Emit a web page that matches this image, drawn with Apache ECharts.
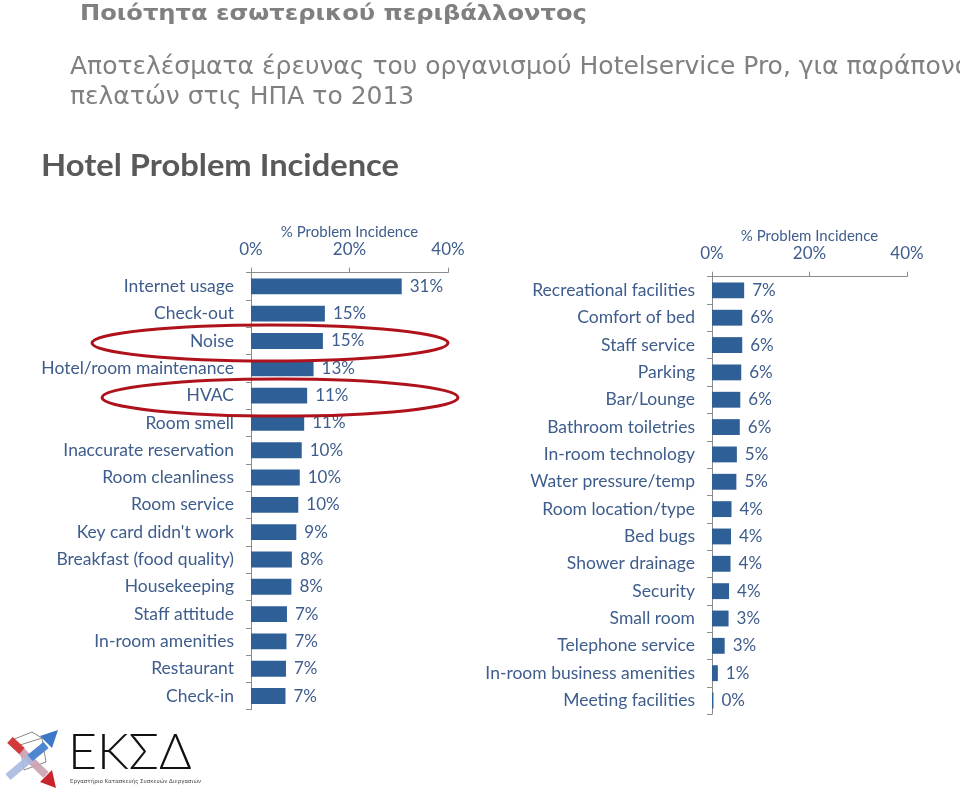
<!DOCTYPE html>
<html>
<head>
<meta charset="utf-8">
<script src="https://cdn.jsdelivr.net/npm/echarts@6/dist/echarts.min.js"></script>
<style>
html,body{margin:0;padding:0;background:#fff;}
#chart{width:960px;height:793px;}
</style>
</head>
<body>
<div id="chart"></div>
<script>
const pageTitle = 'Ποιότητα εσωτερικού περιβάλλοντος';
const subtitleLines = ['Αποτελέσματα έρευνας του οργανισμού Hotelservice Pro, για παράπονα', 'πελατών στις ΗΠΑ το 2013'];
const chartHeading = 'Hotel Problem Incidence';
const axisTitle = '% Problem Incidence';
const axisTicks = [0, 20, 40];

const leftCategories = ['Internet usage','Check-out','Noise','Hotel/room maintenance','HVAC','Room smell','Inaccurate reservation','Room cleanliness','Room service',"Key card didn't work",'Breakfast (food quality)','Housekeeping','Staff attitude','In-room amenities','Restaurant','Check-in'];
const leftValues = [30.6, 15.0, 14.6, 12.7, 11.4, 10.8, 10.3, 9.9, 9.6, 9.2, 8.3, 8.2, 7.3, 7.2, 7.1, 7.0];

const rightCategories = ['Recreational facilities','Comfort of bed','Staff service','Parking','Bar/Lounge','Bathroom toiletries','In-room technology','Water pressure/temp','Room location/type','Bed bugs','Shower drainage','Security','Small room','Telephone service','In-room business amenities','Meeting facilities'];
const rightValues = [6.6, 6.2, 6.2, 6.0, 5.8, 5.7, 5.1, 5.0, 4.0, 3.9, 3.8, 3.5, 3.4, 2.6, 1.2, 0.3];

const highlighted = ['Noise', 'HVAC'];

const BAR = '#2f5f97';
const TXT = '#3e5d8c';
const AX = '#8c8c8c';
const FONT = 'Lato';

function xAxisCfg(gi) {
  return {
    gridIndex: gi, type: 'value', position: 'top',
    min: axisTicks[0], max: axisTicks[axisTicks.length - 1], interval: axisTicks[1] - axisTicks[0],
    name: axisTitle, nameLocation: 'middle', nameGap: 33, nameMoveOverlap: false,
    nameTextStyle: {color: TXT, fontFamily: FONT, fontSize: 15},
    axisLine: {show: true, lineStyle: {color: AX, width: 1}},
    axisTick: {show: true, length: 5, lineStyle: {color: AX}},
    axisLabel: {color: TXT, fontFamily: FONT, fontSize: 17, margin: 15, formatter: '{value}%'},
    splitLine: {show: false}
  };
}
function yAxisCfg(gi, cats) {
  return {
    gridIndex: gi, type: 'category', data: cats, inverse: true,
    axisLine: {show: true, lineStyle: {color: AX, width: 1}},
    axisTick: {show: true, length: 5, lineStyle: {color: AX}},
    axisLabel: {color: TXT, fontFamily: FONT, fontSize: 17.5, margin: 17}
  };
}
function seriesCfg(gi, vals) {
  return {
    type: 'bar', xAxisIndex: gi, yAxisIndex: gi, data: vals,
    barCategoryGap: '42%',
    itemStyle: {color: BAR},
    label: {show: true, position: 'right', distance: 8, color: TXT, fontFamily: FONT, fontSize: 17,
      formatter: p => Math.round(p.value) + '%'},
    silent: true, animation: false
  };
}

const chart = echarts.init(document.getElementById('chart'), null, {renderer: 'canvas'});
chart.setOption({
  animation: false,
  grid: [
    {left: 251, top: 272.7, width: 197, height: 437},
    {left: 712, top: 276.7, width: 195, height: 437.5}
  ],
  xAxis: [xAxisCfg(0), xAxisCfg(1)],
  yAxis: [yAxisCfg(0, leftCategories), yAxisCfg(1, rightCategories)],
  series: [seriesCfg(0, leftValues), seriesCfg(1, rightValues)]
});

const els = [
  {type: 'text', x: 80, y: 3, scaleX: 1.125, originX: 0, style: {text: pageTitle, fill: '#808080', font: 'bold 21.5px "DejaVu Sans"'}},
  {type: 'text', left: 70, top: 55, style: {text: subtitleLines[0], fill: '#808080', font: '25px "DejaVu Sans"'}},
  {type: 'text', left: 70, top: 85, style: {text: subtitleLines[1], fill: '#808080', font: '25px "DejaVu Sans"'}},
  {type: 'text', x: 41, y: 151, scaleX: 1.09, originX: 0, style: {text: chartHeading, fill: '#595959', font: 'bold 30px Lato'}},
  // logo
  {type: 'text', left: 68, top: 728, style: {text: 'ΕΚΣΔ', fill: '#111', font: '300 50px Lato'}},
  {type: 'text', left: 70, top: 779, style: {text: 'Εργαστήριο Κατασκευής Συσκευών Διεργασιών', fill: '#444', font: '5.5px "DejaVu Sans"'}},
  {type: 'polyline', shape: {points: [[20,745],[42,738],[46,762],[24,770],[20,745]]}, style: {stroke: '#888', lineWidth: 1, fill: 'none'}},
  {type: 'polyline', shape: {points: [[42,738],[32,732],[12,740],[20,745]]}, style: {stroke: '#888', lineWidth: 1, fill: 'none'}},
  {type: 'line', shape: {x1: 10, y1: 740, x2: 46, y2: 775}, style: {stroke: '#c9a0b0', lineWidth: 8, opacity: 0.9}},
  {type: 'line', shape: {x1: 10, y1: 740, x2: 22, y2: 751}, style: {stroke: '#d33a3a', lineWidth: 8}},
  {type: 'polygon', shape: {points: [[40,782],[56,788],[52,770]]}, style: {fill: '#c8252c'}},
  {type: 'line', shape: {x1: 8, y1: 777, x2: 46, y2: 745}, style: {stroke: '#a9b8e0', lineWidth: 8, opacity: 0.9}},
  {type: 'line', shape: {x1: 30, y1: 758, x2: 46, y2: 745}, style: {stroke: '#4f86d0', lineWidth: 8}},
  {type: 'polygon', shape: {points: [[40,736],[58,730],[52,748]]}, style: {fill: '#3d78c8'}}
];

const yNoise = chart.convertToPixel({yAxisIndex: 0}, highlighted[0]);
const yHvac = chart.convertToPixel({yAxisIndex: 0}, highlighted[1]);
els.push({type: 'ellipse', shape: {cx: 270, cy: yNoise + 2, rx: 178, ry: 18}, style: {fill: 'none', stroke: '#b0121b', lineWidth: 3}, z: 10});
els.push({type: 'ellipse', shape: {cx: 280, cy: yHvac + 2, rx: 178, ry: 18.5}, style: {fill: 'none', stroke: '#b0121b', lineWidth: 3}, z: 10});

chart.setOption({graphic: {elements: els}});
</script>
</body>
</html>
